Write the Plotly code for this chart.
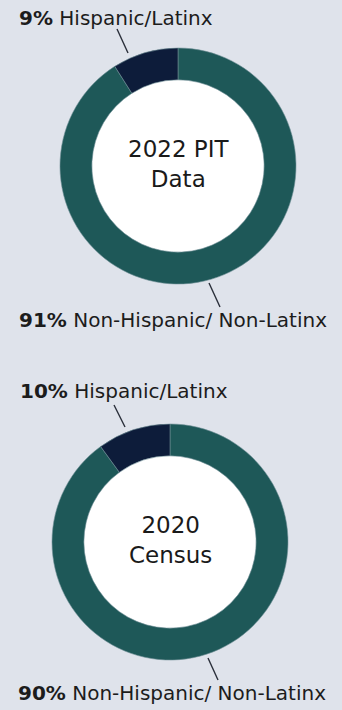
import plotly.graph_objects as go

W, H = 342, 710

groups = ["Non-Hispanic/ Non-Latinx", "Hispanic/Latinx"]
pit_2022 = [91, 9]
census_2020 = [90, 10]
center_titles = ["2022 PIT<br>Data", "2020<br>Census"]

colors = ["#1e5858", "#0d1c3a"]
bg = "#dfe3eb"
HOLE = 0.73

def px(x):
    return x / W

def py(y):
    return 1 - y / H

fig = go.Figure()

# donut geometry (pixels): center x, center y, radius
geo = [(178, 166, 118), (170, 542, 118)]
datasets = [pit_2022, census_2020]

shapes = []
for (cx, cy, r), vals in zip(geo, datasets):
    fig.add_trace(go.Pie(
        labels=groups,
        values=vals,
        hole=HOLE,
        sort=False,
        direction="clockwise",
        rotation=0,
        marker=dict(colors=colors, line=dict(color="#6f8f96", width=0.6)),
        textinfo="none",
        hoverinfo="label+percent",
        showlegend=False,
        domain=dict(x=[px(cx - r), px(cx + r)], y=[py(cy + r), py(cy - r)]),
    ))
    hr = r * HOLE
    shapes.append(dict(type="circle", xref="paper", yref="paper", layer="below",
                       x0=px(cx - hr), x1=px(cx + hr), y0=py(cy + hr), y1=py(cy - hr),
                       fillcolor="white", line=dict(width=0)))

font_family = "DejaVu Sans"
annos = []
# center titles
for (cx, cy, r), t in zip(geo, center_titles):
    annos.append(dict(x=px(cx), y=py(cy - 2), xref="paper", yref="paper",
                      text=t, showarrow=False,
                      font=dict(family=font_family, size=23, color="#1a1a1a"),
                      xanchor="center", yanchor="middle"))

# slice labels (pixel positions of text left edge and vertical center)
label_pos = [
    (17, 18, pit_2022[1], groups[1]),
    (17, 320, pit_2022[0], groups[0]),
    (18, 391, census_2020[1], groups[1]),
    (16, 693, census_2020[0], groups[0]),
]
for x, y, v, g in label_pos:
    annos.append(dict(x=px(x), y=py(y), xref="paper", yref="paper",
                      text=f"<b>{v}%</b> {g}", showarrow=False,
                      font=dict(family=font_family, size=20, color="#1c1c1c"),
                      xanchor="left", yanchor="middle"))

# leader lines
leaders = [
    ((117, 29), (128, 53)),
    ((209, 283), (220, 307)),
    ((114, 405), (125, 427)),
    ((208, 658), (218, 680)),
]
for (x0, y0), (x1, y1) in leaders:
    shapes.append(dict(type="line", xref="paper", yref="paper",
                       x0=px(x0), y0=py(y0), x1=px(x1), y1=py(y1),
                       line=dict(color="#2a2f3a", width=1.4)))

fig.update_layout(
    width=W, height=H,
    margin=dict(l=0, r=0, t=0, b=0),
    paper_bgcolor=bg, plot_bgcolor=bg,
    annotations=annos, shapes=shapes,
)

fig.write_html("out.html", config={"displayModeBar": False},
               post_script="document.body.style.margin='0';document.body.style.background='%s';" % bg)
